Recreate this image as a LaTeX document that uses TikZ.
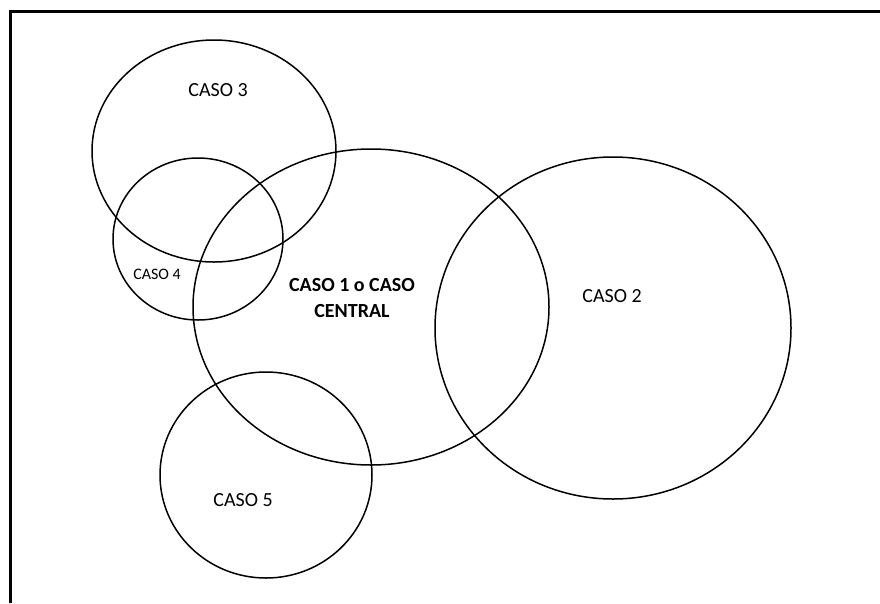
\documentclass[tikz,border=0pt]{standalone}
\usepackage{fontspec}
\setmainfont{Carlito}
\begin{document}
\begin{tikzpicture}[x=1pt,y=-1pt,
  ring/.style={draw=black,line width=1.5pt},
  lbl/.style={font=\fontsize{20}{24}\selectfont,inner sep=0pt},
  lblsmall/.style={font=\fontsize{16}{19}\selectfont,inner sep=0pt}]
\useasboundingbox (0,0) rectangle (880,603);
\draw[line width=2.2pt] (10.5,603) -- (10.5,11.5) -- (880,11.5);
\draw[ring] (214,151) ellipse [x radius=122,y radius=111];
\draw[ring] (198,239) ellipse [x radius=85,y radius=81];
\draw[ring] (371,307) ellipse [x radius=178,y radius=158];
\draw[ring] (613,328) ellipse [x radius=178,y radius=171];
\draw[ring] (266,475) ellipse [x radius=106,y radius=103];
\node[lbl] (c3) at (218,90) {CASO 3};
\node[lblsmall] (c4) at (157,274) {CASO 4};
\node[lbl,align=center,font=\fontsize{20}{26}\selectfont\bfseries] (c1) at (352,298) {CASO 1 o CASO\\CENTRAL};
\node[lbl] (c2) at (612,296) {CASO 2};
\node[lbl] (c5) at (243,500) {CASO 5};
\end{tikzpicture}
\end{document}
